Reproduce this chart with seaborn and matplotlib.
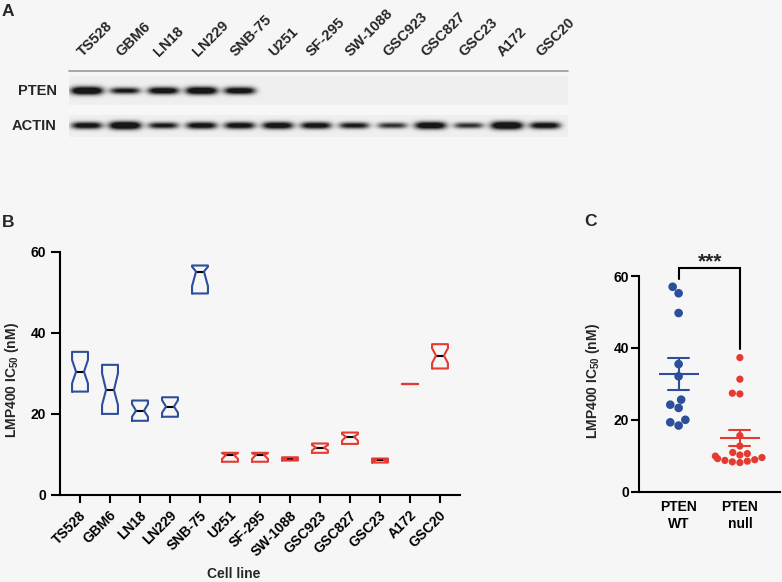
import numpy as np
import pandas as pd
import matplotlib.pyplot as plt
import matplotlib.transforms as mtransforms
import seaborn as sns

# =================================================================
# 1. DATOS
# =================================================================
CELL_LINES = ["TS528", "GBM6", "LN18", "LN229", "SNB-75", "U251", "SF-295",
              "SW-1088", "GSC923", "GSC827", "GSC23", "A172", "GSC20"]
PTEN_STATUS = ["WT"] * 5 + ["null"] * 8

# Panel A: intensidad relativa de banda (0 = sin banda)
PTEN_BAND = [1.0, 0.7, 0.85, 0.95, 0.85, 0, 0, 0, 0, 0, 0, 0, 0]
ACTIN_BAND = [0.8, 1.0, 0.7, 0.8, 0.8, 0.85, 0.8, 0.7, 0.6, 0.9, 0.6, 1.0, 0.8]

# Panel B: cajas con muesca por línea celular (nM)
IC50_Q1 = [25.5, 20.0, 18.3, 19.3, 49.7, 8.2, 8.2, 8.5, 10.4, 12.6, 8.0, 27.3, 31.2]
IC50_MED = [30.4, 25.9, 20.8, 21.8, 55.1, 9.9, 9.9, 8.9, 11.7, 14.4, 8.6, 27.3, 34.4]
IC50_Q3 = [35.3, 32.1, 23.3, 24.1, 56.6, 10.4, 10.4, 9.3, 12.7, 15.4, 9.0, 27.3, 37.2]
NOTCH_LO = [27.5, 22.2, 19.3, 20.3, 51.5, 8.9, 8.9, 8.7, 11.0, 13.4, 8.4, 27.3, 32.5]
NOTCH_HI = [33.3, 30.0, 22.4, 23.4, 56.3, 10.3, 10.3, 9.1, 12.3, 15.0, 8.8, 27.3, 36.2]

# Panel C: IC50 individuales por grupo (nM)
GROUPS = ["PTEN\nWT", "PTEN\nnull"]
WT_IC50 = [57.0, 55.2, 49.7, 35.5, 32.1, 25.6, 24.2, 23.3, 20.0, 19.3, 18.4]
NULL_IC50 = [37.3, 31.3, 27.4, 27.2, 15.6, 12.7, 10.9, 10.6, 10.2, 9.9, 9.5,
             9.2, 8.9, 8.7, 8.5, 8.3, 8.1]

BLUE = "#2d4e9c"
RED = "#e53a30"
BG = "#f6f6f6"
W, H = 782, 582


def fx(px):
    return px / W


def fy(px):
    return 1 - px / H


sns.set_theme(style="ticks")
plt.rcParams.update({
    "font.family": ["Liberation Sans", "DejaVu Sans"],
    "font.weight": "bold",
    "axes.labelweight": "bold",
    "font.size": 10,
    "mathtext.fontset": "custom",
    "mathtext.rm": "Liberation Sans:bold",
    "mathtext.it": "Liberation Sans:bold",
    "mathtext.bf": "Liberation Sans:bold",
    "axes.facecolor": BG,
    "figure.facecolor": BG,
    "axes.edgecolor": "black",
    "axes.linewidth": 1.5,
    "xtick.color": "black",
    "ytick.color": "black",
    "xtick.major.width": 1.5,
    "ytick.major.width": 1.5,
    "xtick.labelsize": 10,
    "ytick.labelsize": 10,
})

fig = plt.figure(figsize=(W / 100, H / 100), dpi=100, facecolor=BG)

# =================================================================
# 2. PANEL A - western blot
# =================================================================
axa = fig.add_axes([0, fy(150), 1, 150 / H])
axa.set_xlim(0, W)
axa.set_ylim(150, 0)
axa.axis("off")

lane_x = 87 + 38.17 * np.arange(len(CELL_LINES))
x0, x1, y0, y1 = 69, 568, 76, 137
xs = np.arange(x0, x1) + 0.5
ys = np.arange(y0, y1) + 0.5
XX, YY = np.meshgrid(xs, ys)
img = np.full(XX.shape, 0.965)
strip_bg = 0.935
img[(YY < 105)] = strip_bg
img[(YY > 115)] = strip_bg


def add_bands(img, intens, cy):
    dark = np.zeros_like(img)
    for cx, v in zip(lane_x, intens):
        if v <= 0:
            continue
        w = 13 + 3 * v
        h = 1.6 + 2.4 * v
        dark += v * np.exp(-(np.abs(XX - cx) / w) ** 4) * np.exp(-((YY - cy) / h) ** 2)
    return img - (img - 0.09) * np.clip(1.5 * dark, 0, 1)


img = add_bands(img, PTEN_BAND, 90.7)
img = add_bands(img, ACTIN_BAND, 125.5)
axa.imshow(img, extent=(x0, x1, y1, y0), cmap="gray", vmin=0, vmax=1,
           interpolation="bilinear", aspect="auto")
axa.plot([x0, x1], [71, 71], color="#9a9a9a", lw=1.2)
for cx, name in zip(lane_x, CELL_LINES):
    axa.text(cx - 4, 57, name, rotation=45, ha="left", va="baseline",
             rotation_mode="anchor", fontsize=10.5, fontweight="bold")
axa.text(57, 90.7, "PTEN", ha="right", va="center", fontsize=10.5, fontweight="bold")
axa.text(57, 125.5, "ACTIN", ha="right", va="center", fontsize=10.5, fontweight="bold")
axa.text(2, 16, "A", ha="left", va="baseline", fontsize=12.5, fontweight="bold")

# =================================================================
# 3. PANEL B - cajas con muesca
# =================================================================
axb = fig.add_axes([fx(60), fy(495), fx(460) - fx(60), fy(251.7) - fy(495)])
stats = []
for i, name in enumerate(CELL_LINES):
    stats.append(dict(med=IC50_MED[i], q1=IC50_Q1[i], q3=IC50_Q3[i],
                      cilo=NOTCH_LO[i], cihi=NOTCH_HI[i],
                      whislo=IC50_Q1[i], whishi=IC50_Q3[i],
                      fliers=[], label=name))
art = axb.bxp(stats, positions=np.arange(len(CELL_LINES)), widths=0.53,
              shownotches=True, showcaps=False, showfliers=False,
              manage_ticks=False,
              boxprops=dict(linewidth=1.5, zorder=3),
              medianprops=dict(color="black", linewidth=1.5, zorder=2,
                               solid_capstyle="butt"),
              whiskerprops=dict(linewidth=0))
for box, status in zip(art["boxes"], PTEN_STATUS):
    box.set_color(BLUE if status == "WT" else RED)

axb.set_xlim(-0.667, 12.667)
axb.set_ylim(0, 60)
axb.set_yticks([0, 20, 40, 60])
axb.set_xticks(np.arange(len(CELL_LINES)))
axb.set_xticklabels(CELL_LINES, rotation=45, ha="right", va="center",
                    rotation_mode="anchor", fontweight="bold")
axb.tick_params(axis="x", length=6, pad=7)
axb.tick_params(axis="y", length=6.5, pad=3.5)
shift = mtransforms.ScaledTranslation(4 / 100, 0, fig.dpi_scale_trans)
for lbl in axb.get_xticklabels():
    lbl.set_transform(lbl.get_transform() + shift)
for lbl in axb.get_yticklabels():
    lbl.set_fontweight("bold")
sns.despine(ax=axb)
axb.set_ylabel(r"LMP400 IC$_{50}$ (nM)", fontsize=10)
axb.yaxis.set_label_coords(-0.0975, 0.473)
axb.set_xlabel("Cell line", fontsize=10)
axb.xaxis.set_label_coords(0.435, -0.296)
fig.text(fx(2), fy(227), "B", ha="left", va="baseline", fontsize=12.5, fontweight="bold")

# =================================================================
# 4. PANEL C - WT vs null
# =================================================================
axc = fig.add_axes([fx(639.3), fy(491.7), fx(780) - fx(639.3), fy(276) - fy(491.7)])
df_c = pd.DataFrame({
    "grupo": [GROUPS[0]] * len(WT_IC50) + [GROUPS[1]] * len(NULL_IC50),
    "ic50": WT_IC50 + NULL_IC50,
})
pal = {GROUPS[0]: BLUE, GROUPS[1]: RED}
sns.pointplot(data=df_c, x="grupo", y="ic50", hue="grupo", palette=pal,
              order=GROUPS, hue_order=GROUPS, errorbar="se", capsize=0.34,
              marker="_", markersize=29, markeredgewidth=1.5, linestyle="none",
              err_kws={"linewidth": 1.5}, legend=False, ax=axc)
# puntos individuales: WT algo más grandes que null, como en el original
for grupo, tam in zip(GROUPS, [6.2, 5.2]):
    sns.swarmplot(data=df_c[df_c["grupo"] == grupo], x="grupo", y="ic50",
                  hue="grupo", palette=pal, order=GROUPS, hue_order=GROUPS,
                  size=tam, legend=False, ax=axc)
axc.set_xlim(-0.642, 1.655)
axc.set_ylim(0, 60)
axc.set_yticks([0, 20, 40, 60])
axc.tick_params(axis="x", length=0, pad=6)
axc.tick_params(axis="y", length=5.5, pad=2)
for lbl in axc.get_xticklabels():
    lbl.set_fontweight("bold")
    lbl.set_linespacing(1.3)
for lbl in axc.get_yticklabels():
    lbl.set_fontweight("bold")
sns.despine(ax=axc)
axc.set_xlabel("")
axc.set_ylabel(r"LMP400 IC$_{50}$ (nM)", fontsize=10)
axc.yaxis.set_label_coords(-0.265, 0.513)
axc.plot([0, 0, 1, 1], [59.2, 62.1, 62.1, 39.7], color="black", lw=1.5,
         clip_on=False, solid_joinstyle="miter")
axc.text(0.514, 64.0, "***", ha="center", va="center", fontsize=15,
         fontweight="bold", clip_on=False)
fig.text(fx(584), fy(226), "C", ha="left", va="baseline", fontsize=12.5, fontweight="bold")

fig.savefig("out.png", dpi=100, facecolor=BG)
